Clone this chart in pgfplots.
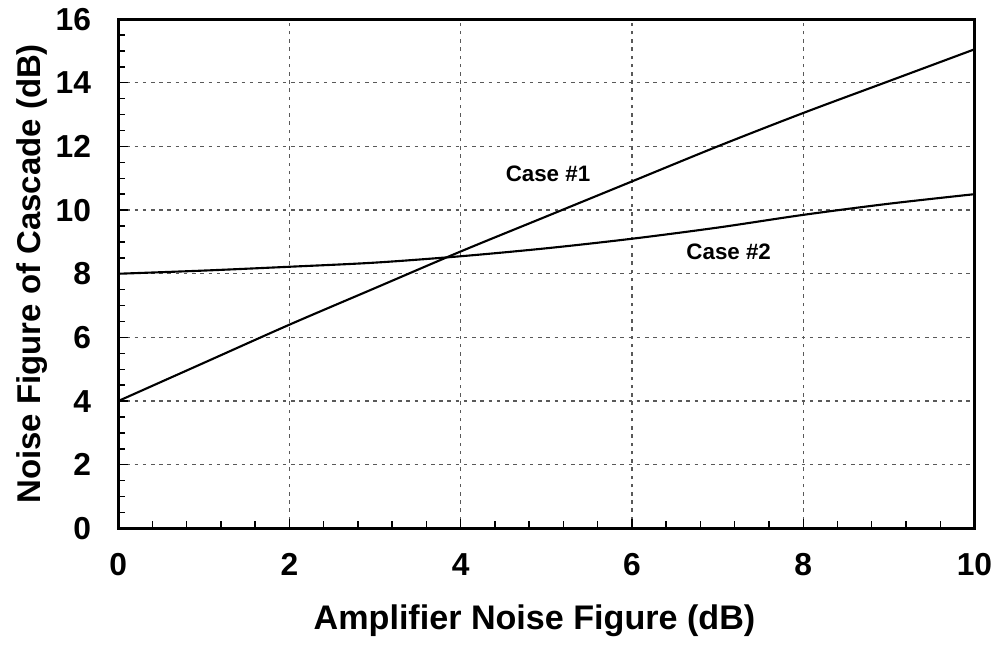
\documentclass[border=0pt]{standalone}
\usepackage{pgfplots}
\pgfplotsset{compat=1.18}
\usepackage{fontspec}
\setmainfont{Liberation Sans}
\begin{document}
\begin{tikzpicture}
\begin{axis}[
    scale only axis,
    width=364pt, height=216.5pt,
    xmin=0, xmax=10, ymin=0, ymax=16,
    xtick={0,2,...,10}, ytick={0,2,...,16},
    minor x tick num=4, minor y tick num=3,
    xtick pos=lower, ytick pos=left,
    tick align=inside,
    major tick length=4pt, minor tick length=3pt,
    grid=major,
    major grid style={black!65, dash pattern=on 1.5pt off 2pt, line width=0.6pt},
    axis line style={line width=1.3pt},
    every tick/.style={black, line width=0.6pt},
    /pgf/number format/assume math mode=true,
    ticklabel style={font=\fontsize{13.5}{15}\selectfont\bfseries},
    xticklabel style={yshift=-7pt},
    yticklabel style={xshift=-8pt},
    xlabel={Amplifier Noise Figure (dB)},
    ylabel={Noise Figure of Cascade (dB)},
    xlabel style={font=\fontsize{14.5}{16}\selectfont\bfseries, inner ysep=6pt, yshift=-3pt, xshift=-5pt},
    ylabel style={font=\fontsize{14}{16}\selectfont\bfseries, inner ysep=7pt, yshift=-7pt},
]
\addplot[black, line width=0.9pt, smooth] coordinates {
(0,4.0) (1,5.2) (2,6.4) (3,7.55) (4,8.7) (5,9.8) (6,10.9) (7,12.0) (8,13.05) (9,14.05) (10,15.05)};
\addplot[black, line width=0.9pt, smooth] coordinates {
(0,8.0) (1,8.1) (2,8.22) (3,8.35) (4,8.55) (5,8.8) (6,9.1) (7,9.45) (8,9.85) (9,10.2) (10,10.5)};
\node[font=\fontsize{9.5}{11}\selectfont\bfseries] at (axis cs:5.02,11.15) {Case \#1};
\node[font=\fontsize{9.5}{11}\selectfont\bfseries] at (axis cs:7.13,8.7) {Case \#2};
\end{axis}
\end{tikzpicture}
\end{document}
